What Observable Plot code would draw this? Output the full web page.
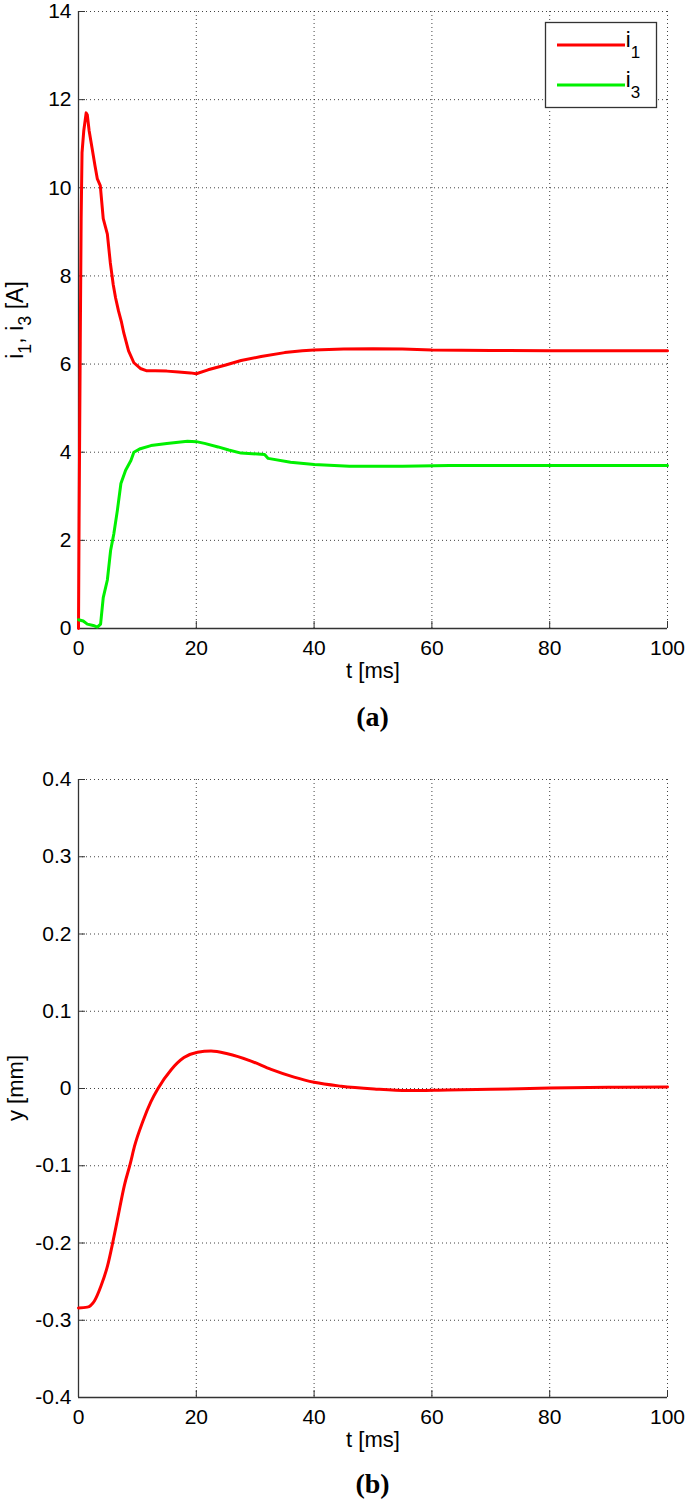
<!DOCTYPE html>
<html><head><meta charset="utf-8">
<script src="https://cdn.jsdelivr.net/npm/d3@7"></script>
<script src="https://cdn.jsdelivr.net/npm/@observablehq/plot@0.6"></script>
<style>
body{margin:0;background:#fff;width:685px;}
.cap{font-family:"Liberation Serif","Times New Roman",serif;font-weight:bold;font-size:28px;text-align:center;padding-left:78px;padding-right:18px;box-sizing:border-box;width:685px;color:#000;}
</style></head><body>
<div id="a"></div>
<div class="cap" style="height:40px;line-height:34px">(a)</div>
<div id="b"></div>
<div class="cap" style="height:31px;line-height:29px">(b)</div>
<script>
// ---- tick labels ----
const xTicks = [0, 20, 40, 60, 80, 100];
const yTicksA = [0, 2, 4, 6, 8, 10, 12, 14];
const yTicksB = [-0.4, -0.3, -0.2, -0.1, 0, 0.1, 0.2, 0.3, 0.4];
const xLabel = "t [ms]";

// ---- series (a): i1 ----
const t1 = [0, 0.1, 0.3, 0.45, 0.6, 0.9, 1.3, 1.5, 1.8, 2.3, 2.8, 3.2, 3.7, 4.2, 4.9, 5.4, 5.9, 6.3, 6.8, 7.3, 7.7, 8.5, 9.4, 10.5, 11.5, 13, 15, 17, 19, 20, 22, 25, 27.6, 31, 35, 38, 40, 45, 50, 55, 60, 70, 80, 90, 100];
const i1 = [0, 2.5, 6.5, 9.3, 10.8, 11.3, 11.7, 11.65, 11.3, 10.9, 10.5, 10.2, 10.05, 9.3, 8.95, 8.3, 7.8, 7.5, 7.2, 6.95, 6.7, 6.3, 6.03, 5.9, 5.85, 5.85, 5.84, 5.82, 5.8, 5.78, 5.87, 5.98, 6.08, 6.17, 6.26, 6.3, 6.32, 6.34, 6.35, 6.34, 6.32, 6.31, 6.3, 6.3, 6.3];
// ---- series (a): i3 ----
const t3 = [0, 0.8, 1.5, 2.5, 3.2, 3.75, 4.2, 4.9, 5.45, 6.0, 6.6, 7.2, 8.0, 8.9, 9.4, 10.5, 12.3, 15, 18.5, 20, 21.4, 23.7, 25.5, 27.6, 31.6, 32.2, 36, 40, 46, 55, 63, 80, 100];
const i3 = [0.2, 0.17, 0.1, 0.07, 0.03, 0.1, 0.7, 1.1, 1.77, 2.15, 2.68, 3.29, 3.59, 3.81, 4.0, 4.08, 4.15, 4.2, 4.25, 4.24, 4.2, 4.12, 4.05, 3.98, 3.95, 3.86, 3.77, 3.72, 3.68, 3.68, 3.7, 3.7, 3.7];
// ---- series (b): y ----
const tY = [0, 1.5, 2.7, 3.8, 4.95, 5.8, 6.65, 7.8, 8.8, 9.5, 10.9, 12.3, 13.5, 15.7, 17.9, 20.2, 22.5, 25.3, 29.3, 32.7, 36.6, 40, 44.6, 50.2, 55.9, 62.7, 70, 80, 90, 100];
const yMm = [-0.284, -0.283, -0.275, -0.256, -0.229, -0.2, -0.168, -0.125, -0.097, -0.075, -0.043, -0.017, 0, 0.024, 0.04, 0.047, 0.0485, 0.045, 0.0355, 0.0247, 0.0147, 0.008, 0.003, -0.0005, -0.0026, -0.0018, -0.001, 0.0005, 0.0015, 0.002];

const zip = (xs, ys) => xs.map((x, k) => ({x, y: ys[k]}));
const fmt = d => String(d);
const FS = 21;

function chart({height, marginTop, yDomain, yTicks, lines}) {
  return Plot.plot({
    width: 685, height, marginTop, marginBottom: 72, marginLeft: 78, marginRight: 18,
    style: {fontFamily: '"Liberation Sans", Arial, sans-serif', fontSize: FS + "px", color: "#000", background: "#fff"},
    x: {domain: [0, 100]},
    y: {domain: yDomain},
    marks: [
      Plot.gridX(xTicks, {stroke: "#222", strokeOpacity: 0.85, strokeDasharray: "1,3", strokeWidth: 1}),
      Plot.gridY(yTicks, {stroke: "#222", strokeOpacity: 0.85, strokeDasharray: "1,3", strokeWidth: 1}),
      Plot.ruleX([0], {stroke: "#333", strokeWidth: 1.3}),
      Plot.ruleY([yDomain[0]], {stroke: "#333", strokeWidth: 1.3}),
      Plot.axisX(xTicks, {tickSize: -7, tickFormat: () => "", label: null, stroke: "#333"}),
      Plot.axisY(yTicks, {tickSize: -7, tickFormat: () => "", label: null, stroke: "#333"}),
      Plot.axisX(xTicks, {tickSize: 0, tickPadding: 12, label: null, tickFormat: fmt, fontSize: FS}),
      Plot.axisY(yTicks, {tickSize: 0, tickPadding: 7, label: null, tickFormat: fmt, fontSize: FS}),
      ...lines.map(l => Plot.line(l.data, {x: "x", y: "y", stroke: l.color, strokeWidth: 3, strokeLinejoin: "round", curve: l.curve || "linear"})),
      Plot.text([xLabel], {frameAnchor: "bottom", dy: 49, fontSize: 22})
    ]
  });
}

function richText(sel, parts, size, subSize, shift) {
  let cur = 0;
  for (const [s, sub] of parts) {
    const want = sub ? shift : 0;
    sel.append("tspan").attr("dy", want - cur).attr("font-size", sub ? subSize : size).text(s);
    cur = want;
  }
}

const A = chart({height: 700, marginTop: 11, yDomain: [0, 14], yTicks: yTicksA,
  lines: [{data: zip(t1, i1), color: "#ff0000"}, {data: zip(t3, i3), color: "#00f000"}]});
document.getElementById("a").append(A);
const sa = d3.select(A);
const yl = sa.append("text").attr("transform", "translate(23,320) rotate(-90)").attr("text-anchor", "middle")
  .attr("font-size", 23).attr("fill", "#000");
richText(yl, [["i", false], ["1", true], [", i", false], ["3", true], [" [A]", false]], 23, 18, 8);

// legend
const lg = sa.append("g");
lg.append("rect").attr("x", 545.5).attr("y", 22.5).attr("width", 111).attr("height", 85)
  .attr("fill", "#fff").attr("stroke", "#333").attr("stroke-width", 1.3);
const legendItems = [{name: "1", color: "#ff0000"}, {name: "3", color: "#00f000"}];
legendItems.forEach((it, k) => {
  const cy = 45 + k * 40;
  lg.append("line").attr("x1", 557).attr("x2", 625).attr("y1", cy).attr("y2", cy)
    .attr("stroke", it.color).attr("stroke-width", 3);
  const tx = lg.append("text").attr("x", 633).attr("y", cy + 2).attr("font-size", 22).attr("fill", "#000");
  richText(tx, [["i", false], [it.name, true]], 22, 17, 11);
});

const B = chart({height: 729, marginTop: 39, yDomain: [-0.4, 0.4], yTicks: yTicksB,
  lines: [{data: zip(tY, yMm), color: "#ff0000", curve: "monotone-x"}]});
document.getElementById("b").append(B);
d3.select(B).append("text").attr("transform", "translate(23,348) rotate(-90)").attr("text-anchor", "middle")
  .attr("font-size", 22).attr("fill", "#000").text("y [mm]");
</script>
</body></html>
